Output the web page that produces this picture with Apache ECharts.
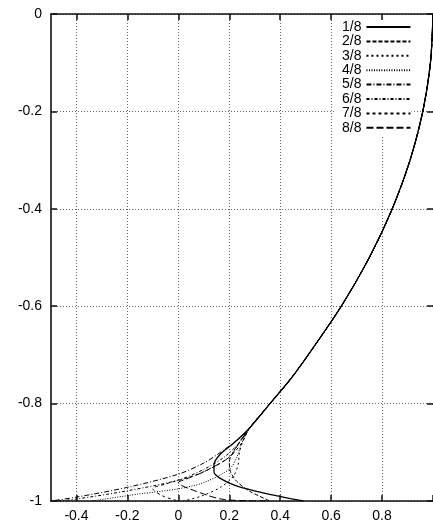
<!DOCTYPE html>
<html>
<head>
<meta charset="utf-8">
<script src="https://cdn.jsdelivr.net/npm/echarts@6/dist/echarts.min.js"></script>
<style>html,body{margin:0;padding:0;background:#fff}#c{width:433px;height:524px}</style>
</head>
<body>
<div id="c"></div>
<script>
// shared upper part of all curves
var upperX = [1.0, 0.99, 0.96, 0.91, 0.84, 0.75, 0.64, 0.51, 0.44, 0.36, 0.28];
var upperY = [0, -0.1, -0.2, -0.3, -0.4, -0.5, -0.6, -0.7, -0.75, -0.8, -0.85];
// diverging tails near the bottom
var tail1X = [0.22, 0.163, 0.14, 0.14, 0.163, 0.228, 0.346, 0.44, 0.49];
var tail1Y = [-0.88, -0.905, -0.925, -0.94, -0.953, -0.969, -0.985, -0.995, -1.0];
var tail2X = [0.245, 0.215, 0.2, 0.205, 0.23, 0.28, 0.36];
var tail2Y = [-0.875, -0.9, -0.92, -0.94, -0.96, -0.98, -1.0];
var tail3X = [0.255, 0.24, 0.235, 0.215, 0.165, 0.09, 0.02];
var tail3Y = [-0.875, -0.9, -0.925, -0.95, -0.972, -0.99, -1.0];
var tail4X = [0.25, 0.23, 0.2, 0.1, 0.0, -0.16, -0.34];
var tail4Y = [-0.88, -0.91, -0.935, -0.962, -0.975, -0.986, -1.0];
var tail5X = [0.23, 0.16, 0.1, 0.0, -0.2, -0.4, -0.5];
var tail5Y = [-0.875, -0.902, -0.922, -0.945, -0.972, -0.992, -1.0];
var tail6X = [0.24, 0.18, 0.1, 0.0, -0.2, -0.4, -0.47];
var tail6Y = [-0.88, -0.91, -0.935, -0.957, -0.979, -0.996, -1.0];
var tail7X = [0.25, 0.2, 0.12, 0.05, -0.05, -0.1, -0.06, 0.0];
var tail7Y = [-0.88, -0.91, -0.935, -0.95, -0.965, -0.975, -0.99, -1.0];
var tail8X = [0.24, 0.2, 0.1, 0.03, 0.0, 0.07, 0.18, 0.35];
var tail8Y = [-0.88, -0.91, -0.94, -0.955, -0.962, -0.98, -0.997, -1.0];

var names = ['1/8', '2/8', '3/8', '4/8', '5/8', '6/8', '7/8', '8/8'];
var xTicks = [-0.4, -0.2, 0, 0.2, 0.4, 0.6, 0.8, 1];
var xLabels = [-0.4, -0.2, 0, 0.2, 0.4, 0.6, 0.8];

var tailsX = [tail1X, tail2X, tail3X, tail4X, tail5X, tail6X, tail7X, tail8X];
var tailsY = [tail1Y, tail2Y, tail3Y, tail4Y, tail5Y, tail6Y, tail7Y, tail8Y];
var dashes = ['solid', [4, 2], [2, 3], [1, 1.5], [5, 2, 1, 2], [3, 2, 1, 2], [3, 3], [7, 3]];
var widths = [1.3, 1, 1, 1, 1, 1, 1, 1];

function pairs(xs, ys) { var o = []; for (var i = 0; i < xs.length; i++) o.push([xs[i], ys[i]]); return o; }

var series = names.map(function (n, k) {
  return {
    name: n, type: 'line', showSymbol: false, symbol: 'none', smooth: 0.3,
    data: pairs(upperX, upperY).concat(pairs(tailsX[k], tailsY[k])),
    lineStyle: { color: '#000', width: widths[k], type: dashes[k] },
    itemStyle: { color: '#000' }
  };
});

var font = 'Liberation Sans';
var axisLine = { show: true, onZero: false, lineStyle: { color: '#111', width: 1.6 } };
var split = { show: true, lineStyle: { color: '#666', width: 1, type: [1, 2] } };
var tick = { show: true, inside: true, length: 6, lineStyle: { color: '#111', width: 1.5 } };

var chart = echarts.init(document.getElementById('c'), null, { renderer: 'canvas' });
chart.setOption({
  animation: false,
  backgroundColor: '#fff',
  grid: { left: 51, top: 14, width: 383, height: 487, containLabel: false },
  xAxis: [
    { type: 'value', position: 'bottom', min: -0.5, max: 1,
      axisLine: axisLine,
      axisTick: Object.assign({ customValues: xTicks }, tick),
      axisLabel: { customValues: xLabels, color: '#000', fontFamily: font, fontSize: 14, margin: 8 },
      splitLine: split },
    { type: 'value', position: 'top', min: -0.5, max: 1,
      axisLine: axisLine,
      axisTick: Object.assign({ customValues: xTicks }, tick),
      axisLabel: { show: false }, splitLine: { show: false } }
  ],
  yAxis: [
    { type: 'value', position: 'left', min: -1, max: 0, interval: 0.2,
      axisLine: axisLine, axisTick: tick,
      axisLabel: { color: '#000', fontFamily: font, fontSize: 14, margin: 9 },
      splitLine: split },
    { type: 'value', position: 'right', min: -1, max: 0, interval: 0.2,
      axisLine: { show: false, onZero: false }, axisTick: tick,
      axisLabel: { show: false }, splitLine: { show: false } }
  ],
  legend: {
    data: names, orient: 'vertical', left: 336, top: 20, align: 'right',
    padding: [0, 0, 2, 6], itemWidth: 44, itemHeight: 16, itemGap: 0.4,
    backgroundColor: '#fff', z: 10,
    itemStyle: { color: 'transparent', borderWidth: 0, opacity: 0 },
    lineStyle: { color: '#000' },
    textStyle: { color: '#000', fontFamily: font, fontSize: 14, width: 25 }
  },
  series: series
});
</script>
</body>
</html>
